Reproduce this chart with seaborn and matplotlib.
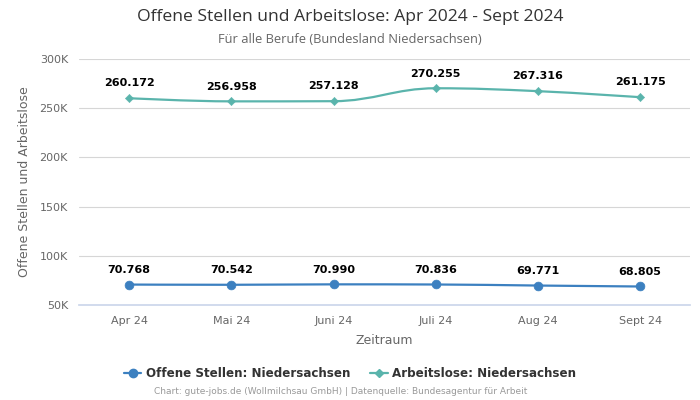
import numpy as np
import pandas as pd
import matplotlib
matplotlib.use("Agg")
import matplotlib.pyplot as plt
from matplotlib.path import Path
from matplotlib.patches import PathPatch
from matplotlib.lines import Line2D
from matplotlib.ticker import FuncFormatter
import seaborn as sns

# data
months = ["Apr 24", "Mai 24", "Juni 24", "Juli 24", "Aug 24", "Sept 24"]
offene_stellen = [70768, 70542, 70990, 70836, 69771, 68805]
arbeitslose = [260172, 256958, 257128, 270255, 267316, 261175]

blue = "#3c80c0"
teal = "#5ab4ac"

sns.set_theme(style="white")
plt.rcParams['font.family'] = ['DejaVu Sans']


def spline_path(xs, ys, smoothing=1.5):
    # highcharts-like spline through the points
    n = len(xs)
    lc = [(xs[i], ys[i]) for i in range(n)]
    rc = [(xs[i], ys[i]) for i in range(n)]
    d = smoothing + 1
    for i in range(1, n - 1):
        x, y = xs[i], ys[i]
        px, py = xs[i - 1], ys[i - 1]
        nx, ny = xs[i + 1], ys[i + 1]
        lx = (smoothing * x + px) / d
        ly = (smoothing * y + py) / d
        rx = (smoothing * x + nx) / d
        ry = (smoothing * y + ny) / d
        if rx != lx:
            corr = ((ry - ly) * (rx - x)) / (rx - lx) + y - ry
            ly += corr
            ry += corr
        if ly > py and ly > y:
            ly = max(py, y); ry = 2 * y - ly
        elif ly < py and ly < y:
            ly = min(py, y); ry = 2 * y - ly
        if ry > ny and ry > y:
            ry = max(ny, y); ly = 2 * y - ry
        elif ry < ny and ry < y:
            ry = min(ny, y); ly = 2 * y - ry
        lc[i] = (lx, ly)
        rc[i] = (rx, ry)
    verts = [(xs[0], ys[0])]
    codes = [Path.MOVETO]
    for i in range(1, n):
        verts += [rc[i - 1], lc[i], (xs[i], ys[i])]
        codes += [Path.CURVE4] * 3
    return Path(verts, codes)


df = pd.DataFrame({"pos": range(len(months)), "monat": months,
                   "offen": offene_stellen, "arbeitslos": arbeitslose})

fig = plt.figure(figsize=(7, 4), dpi=100)
ax = fig.add_axes([0.113, 0.2375, 0.873, 0.615])

xs = list(df.pos)
ax.add_patch(PathPatch(spline_path(xs, arbeitslose), facecolor="none",
                       edgecolor=teal, lw=1.6, zorder=3))
ax.add_patch(PathPatch(spline_path(xs, offene_stellen), facecolor="none",
                       edgecolor=blue, lw=1.6, zorder=3))
sns.scatterplot(data=df, x="pos", y="arbeitslos", marker="D", s=18,
                color=teal, edgecolor=teal, ax=ax, zorder=4)
sns.scatterplot(data=df, x="pos", y="offen", marker="o", s=40,
                color=blue, edgecolor=blue, ax=ax, zorder=4)

for i in range(len(months)):
    for v in (offene_stellen[i], arbeitslose[i]):
        ax.annotate(f"{v:,}".replace(",", "."), (i, v), xytext=(0, 7),
                    textcoords="offset points", ha="center", va="bottom",
                    fontsize=8, fontweight="bold", color="black", zorder=5)

ax.set_xlim(-0.49, 5.49)
ax.set_ylim(50000, 300000)
ax.set_yticks(np.arange(50000, 300001, 50000))
ax.yaxis.set_major_formatter(FuncFormatter(lambda v, p: f"{int(v/1000)}K"))
ax.set_xticks(xs)
ax.set_xticklabels(months)
ax.tick_params(axis="both", labelsize=8, colors="#666666", length=0, pad=8)
ax.grid(axis="y", color="#d6d6d6", lw=0.8)
for s in ["top", "right", "left"]:
    ax.spines[s].set_visible(False)
ax.spines["bottom"].set_color("#ccd6eb")
ax.set_xlabel("Zeitraum", fontsize=9, color="#666666", labelpad=6)
ax.set_ylabel("Offene Stellen und Arbeitslose", fontsize=9, color="#666666", labelpad=6)

fig.text(0.5, 0.957, "Offene Stellen und Arbeitslose: Apr 2024 - Sept 2024",
         ha="center", va="center", fontsize=12.6, color="#333333", family="Open Sans")
fig.text(0.5, 0.902, "Für alle Berufe (Bundesland Niedersachsen)",
         ha="center", va="center", fontsize=9.3, color="#666666", family="Open Sans")

handles = [Line2D([], [], color=blue, marker="o", markersize=6, lw=1.6),
           Line2D([], [], color=teal, marker="D", markersize=4, lw=1.6)]
fig.legend(handles, ["Offene Stellen: Niedersachsen", "Arbeitslose: Niedersachsen"],
           loc="center", bbox_to_anchor=(0.5, 0.067), ncol=2, frameon=False,
           prop={"size": 8.6, "weight": "bold"}, labelcolor="#333333",
           handlelength=1.5, handletextpad=0.4, columnspacing=1.6)
fig.text(0.486, 0.02, "Chart: gute-jobs.de (Wollmilchsau GmbH) | Datenquelle: Bundesagentur für Arbeit",
         ha="center", va="center", fontsize=6.5, color="#999999")

fig.savefig("out.png", dpi=100)
